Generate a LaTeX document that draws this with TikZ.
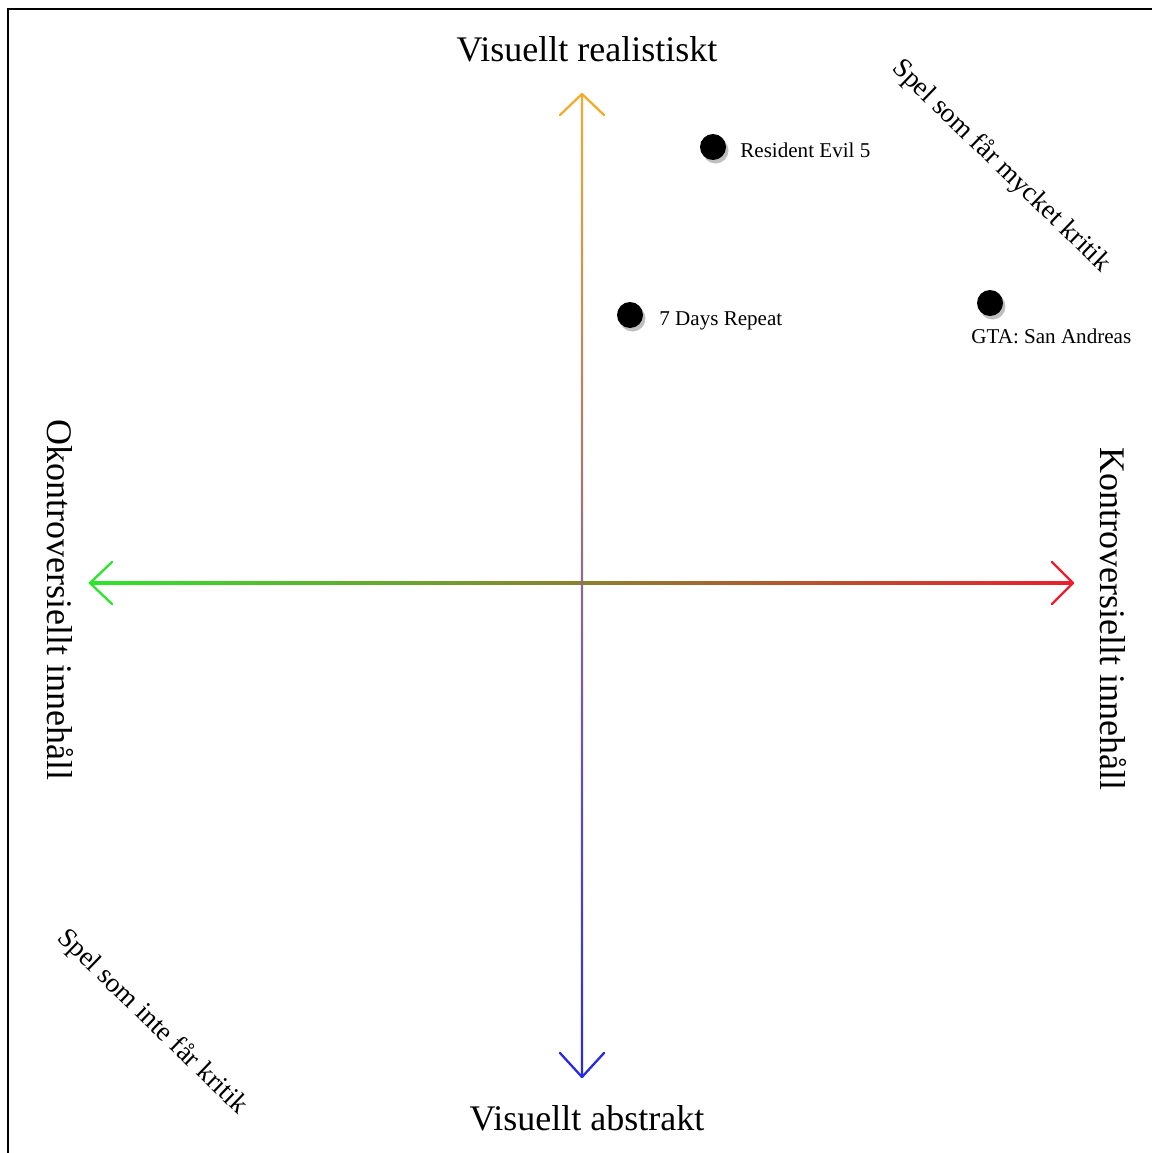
\documentclass[tikz,border=0pt]{standalone}
\usepackage{fontspec}
\setmainfont{Liberation Serif}
\usetikzlibrary{shadows}

\definecolor{axisorange}{RGB}{242,172,45}
\definecolor{axisblue}{RGB}{40,40,232}
\definecolor{axisgreen}{RGB}{45,228,45}
\definecolor{axisred}{RGB}{235,30,45}

\tikzset{
  gamedot/.style={circle,fill=black,inner sep=0pt,minimum size=0.52cm,
    drop shadow={shadow xshift=0.05cm,shadow yshift=-0.07cm,fill=black!25,opacity=1}},
  gamename/.style={font=\fontsize{12}{14}\selectfont,inner sep=0pt},
  axisname/.style={font=\fontsize{20.5}{24}\selectfont,inner sep=0pt,anchor=base},
  cornername/.style={font=\fontsize{15.6}{18}\selectfont,inner sep=0pt,rotate=-44},
  axistip/.style={line width=1.3pt,line cap=round,line join=round}
}

\begin{document}
\begin{tikzpicture}[x=0.02cm,y=-0.02cm]
\useasboundingbox (0,0) rectangle (1152,1153);
\draw[line width=1.3pt] (8,1153) -- (8,9) -- (1152,9);

% axis end points
\coordinate (top) at (582,94);
\coordinate (bottom) at (582,1077);
\coordinate (left) at (90,583);
\coordinate (right) at (1073,583);

% horizontal axis
\shade[left color=axisgreen,right color=axisred] ([yshift=-0.65pt]left) rectangle ([yshift=0.65pt]right);
\draw[axistip,axisgreen] ([shift={(22,-21)}]left) -- (left) -- ([shift={(22,21)}]left);
\draw[axistip,axisred] ([shift={(-21,-21)}]right) -- (right) -- ([shift={(-21,21)}]right);

% vertical axis
\shade[top color=axisorange,bottom color=axisblue] ([xshift=-0.65pt]top) rectangle ([xshift=0.65pt]bottom);
\draw[axistip,axisorange] ([shift={(-22,21)}]top) -- (top) -- ([shift={(22,21)}]top);
\draw[axistip,axisblue] ([shift={(-22,-24)}]bottom) -- (bottom) -- ([shift={(22,-24)}]bottom);

\node[axisname] (realistic) at (587,61) {Visuellt realistiskt};
\node[axisname] (abstract) at (587,1130) {Visuellt abstrakt};
\node[axisname,rotate=-90] (uncontroversial) at (47,600) {Okontroversiellt innehåll};
\node[axisname,rotate=-90] (controversial) at (1100,619) {Kontroversiellt innehåll};

\node[cornername] (muchcritique) at (1001,166) {Spel som får mycket kritik};
\node[cornername] (nocritique) at (152,1022) {Spel som inte får kritik};

% games
\node[gamedot] (re5) at (713,147) {};
\node[gamedot] (days7) at (630,315) {};
\node[gamedot] (gta) at (990,303) {};
\node[gamename,anchor=base west] (re5name) at ([shift={(27,10)}]re5.center) {Resident Evil 5};
\node[gamename,anchor=base west] (days7name) at ([shift={(29,10)}]days7.center) {7 Days Repeat};
\node[gamename,anchor=base west] (gtaname) at ([shift={(-19,40)}]gta.center) {GTA: San Andreas};

\end{tikzpicture}
\end{document}
